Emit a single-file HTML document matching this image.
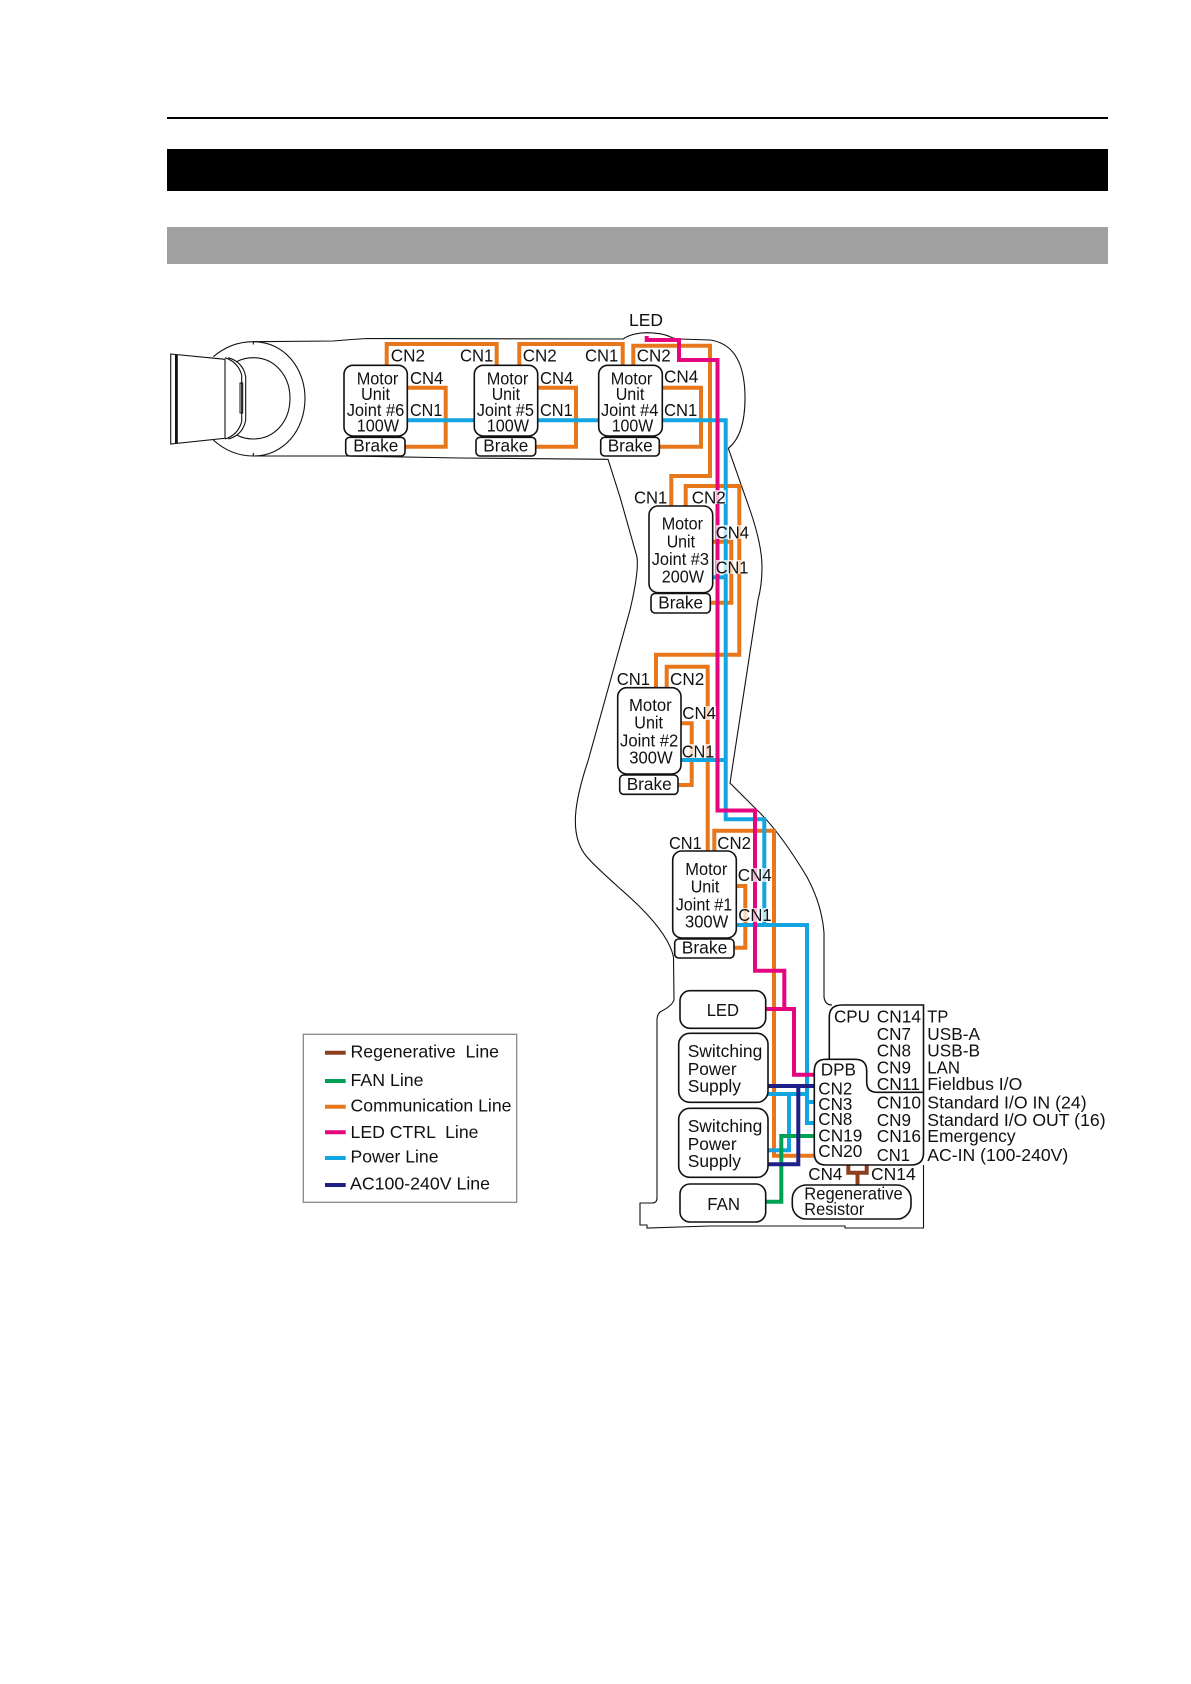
<!DOCTYPE html>
<html><head><meta charset="utf-8"><style>
html,body{margin:0;padding:0;background:#fff}
svg{display:block}
text{font-family:"Liberation Sans",sans-serif;font-size:17.5px;fill:#111}
.o,.b,.p,.g,.n,.r{fill:none;stroke-width:4;stroke-linejoin:miter}
.o{stroke:#e8761a}.b{stroke:#12a5e2}.p{stroke:#e4057f}.g{stroke:#00a055}.n{stroke:#1d2088}.r{stroke:#8c3f1e}
.l{fill:none;stroke:#111;stroke-width:1.1}
.x{fill:#fff;stroke:#111;stroke-width:1.6}
.h{fill:#fff;opacity:.72}
</style></head><body>
<svg width="1191" height="1684" viewBox="0 0 1191 1684" xmlns="http://www.w3.org/2000/svg">
<rect width="1191" height="1684" fill="#fff"/>
<rect x="167" y="117" width="941" height="2" fill="#000"/>
<rect x="167" y="149" width="941" height="42" fill="#000"/>
<rect x="167" y="227" width="941" height="37" fill="#a0a0a0"/>

<!-- body outline -->
<path class="l" d="M253.300 341.700 L333 341 Q350 339.500 366.700 338.500 L623 339 Q632 333 646.700 332.700 Q662 333 670 336.700 Q675 339 680 339 L710 340 Q745 345 745 398 Q745 435 728.300 448.300 L750 510 Q762 545 762 567 Q762 585 758 600 L730 783 L757 810 Q780 832 807 877 Q822 905 824 933 L824 997 Q825 1005 832 1005"/>
<path class="l" d="M253.300 456 L346.700 456 L460 458 L608 459.300 L620 497 L637 557 Q639 572 630 610 L588.300 760 C575 800 568 835 587 857 C600 872 625 892 640 907 C655 922 670 940 673.500 957 L674 1000 Q672 1006 660 1012 Q657 1015 657 1020 L657 1198 Q657 1203 652 1203 L640 1203 L640 1225 L647 1225 L647 1228 L710 1226 L845 1226 L845 1228 L923.500 1228 L923.500 1165"/>
<path class="l" d="M170.700 354 L225 359.300 L225 438.300 L170.700 444 Z"/>
<rect x="175" y="354.500" width="2.800" height="89" fill="#111"/>
<path class="l" d="M213.300 356.700 Q231 341.700 253.300 341.700 C284 341.700 305 368 305 398.300 C305 430 284 456 253.300 456 Q231 456 213.300 440"/>
<path class="l" d="M236.700 361.700 Q244 357.700 253.300 357.700 C275 357.700 290 376 290 398.300 C290 421 275 439 253.300 439 Q244 439 236.700 435"/>
<path class="l" d="M225 357.700 Q238 362 241.700 375 L241.700 421.700 Q238 435 225 439 M228.300 357.700 Q243 362 245.700 376.700 L245.700 420 Q243 435 228.300 439"/>
<rect x="240" y="383" width="2.700" height="30" fill="none" stroke="#111" stroke-width="1"/>
<path class="l" d="M253.300 341.700V344.500M253.300 453V456"/>

<!-- orange lines -->
<path class="o" d="M386.700 365V344H496.700V365"/>
<path class="o" d="M519.300 365V344H622.700V365"/>
<path class="o" d="M633.300 365V345.700H710V476H671.300V506"/>
<path class="o" d="M407.300 387.700H445.700V446.700H405"/>
<path class="o" d="M537.700 387.700H576V446.700H535.700"/>
<path class="o" d="M662.300 387.700H701V446.700H659.300"/>
<path class="o" d="M685.700 506V486H739.300V654.700H656V688"/>
<path class="o" d="M712.700 541.700H731.300V602.700H710"/>
<path class="o" d="M666.700 688V666.700H707.700V851"/>
<path class="o" d="M681 723.300H691.700V785H678"/>
<path class="o" d="M714.300 851V830.700H774V1155.700H814"/>
<path class="o" d="M736 886H745.300V947.700H734"/>
<!-- blue lines -->
<path class="b" d="M407.300 420.300H725.700V819.300H764.300V925"/>
<path class="b" d="M712.700 577.300H725.700"/>
<path class="b" d="M681 760H725.700"/>
<path class="b" d="M736 925H807V1123H814"/>
<path class="b" d="M807 1102H814"/>
<path class="b" d="M768 1094H807"/>
<path class="b" d="M789 1094V1150.300H768"/>
<!-- pink lines -->
<path class="p" d="M646.700 336V340H679V360H717.500V810.500H755V970.700H784.300V1009"/>
<path class="p" d="M765.700 1009H794V1074.700H814"/>
<!-- green -->
<path class="g" d="M765.700 1201.700H781.300V1136H814"/>
<!-- navy -->
<path class="n" d="M768 1086H814"/>
<path class="n" d="M798.300 1086V1164.300H768"/>
<!-- brown -->
<path class="r" d="M848.300 1165V1172.700H866.700V1165M857.500 1172.700V1185"/>

<!-- Joint 6 -->
<rect class="x" x="344" y="365.300" width="63.300" height="70.700" rx="9"/>
<rect class="x" x="345.700" y="437.300" width="59.300" height="18.700" rx="4"/>
<!-- Joint 5 -->
<rect class="x" x="474.300" y="365.300" width="63.400" height="70.700" rx="9"/>
<rect class="x" x="476" y="437.300" width="59.700" height="18.700" rx="4"/>
<!-- Joint 4 -->
<rect class="x" x="598.700" y="365.300" width="63.600" height="70.700" rx="9"/>
<rect class="x" x="600.700" y="437.300" width="58.600" height="18.700" rx="4"/>
<!-- Joint 3 -->
<rect class="x" x="649" y="506" width="63.700" height="86.700" rx="9"/>
<rect class="x" x="651" y="593.500" width="59.300" height="19.500" rx="4"/>
<!-- Joint 2 -->
<rect class="x" x="617.700" y="687.700" width="63.300" height="86.300" rx="9"/>
<rect class="x" x="619.700" y="775" width="58.300" height="19.300" rx="4"/>
<!-- Joint 1 -->
<rect class="x" x="672.700" y="851" width="63.600" height="87" rx="9"/>
<rect class="x" x="674.700" y="939" width="59.300" height="19" rx="4"/>
<!-- lower boxes -->
<rect class="x" x="680" y="990.700" width="85.700" height="37.600" rx="10"/>
<rect class="x" x="678.700" y="1033.300" width="89.300" height="69" rx="11"/>
<rect class="x" x="678.700" y="1108.300" width="89.300" height="69" rx="11"/>
<rect class="x" x="680" y="1184" width="85.700" height="38" rx="10"/>
<rect class="x" x="792.300" y="1185" width="118.700" height="34" rx="14"/>
<path class="l" style="stroke-width:1.600" d="M829.300 1059V1017Q829.300 1005 842 1005H923.500V1153Q923.500 1165 911 1165H826Q814.300 1165 814.300 1153V1071Q814.300 1059.300 826 1059.300H855Q866.700 1059.300 866.700 1071V1082Q866.700 1092.300 877 1092.300H923.500"/>

<!-- label halos over lines -->
<rect class="h" x="692" y="490" width="34" height="14"/>
<rect class="h" x="716" y="525" width="33" height="14"/>
<rect class="h" x="716" y="560" width="33" height="14"/>
<rect class="h" x="682" y="706" width="34" height="14"/>
<rect class="h" x="682" y="744" width="33" height="14"/>
<rect class="h" x="738" y="868" width="34" height="14"/>
<rect class="h" x="738" y="908" width="34" height="14"/>

<!-- Joint 6 text -->
<text x="390.700" y="361.700" textLength="34.300" lengthAdjust="spacingAndGlyphs">CN2</text>
<text x="460" y="361.700" textLength="33.300" lengthAdjust="spacingAndGlyphs">CN1</text>
<text x="410" y="384" textLength="33.300" lengthAdjust="spacingAndGlyphs">CN4</text>
<text x="410" y="416" textLength="32.300" lengthAdjust="spacingAndGlyphs">CN1</text>
<text x="356.700" y="384.300" textLength="41.600" lengthAdjust="spacingAndGlyphs">Motor</text>
<text x="361" y="400" textLength="29" lengthAdjust="spacingAndGlyphs">Unit</text>
<text x="346.700" y="416" textLength="57.600" lengthAdjust="spacingAndGlyphs">Joint #6</text>
<text x="356.700" y="431.700" textLength="42.300" lengthAdjust="spacingAndGlyphs">100W</text>
<text x="353.300" y="451.700" textLength="45" lengthAdjust="spacingAndGlyphs">Brake</text>
<!-- Joint 5 text -->
<text x="522.700" y="361.700" textLength="34" lengthAdjust="spacingAndGlyphs">CN2</text>
<text x="585" y="361.700" textLength="33.300" lengthAdjust="spacingAndGlyphs">CN1</text>
<text x="540" y="384" textLength="33.300" lengthAdjust="spacingAndGlyphs">CN4</text>
<text x="540" y="416" textLength="32.700" lengthAdjust="spacingAndGlyphs">CN1</text>
<text x="486.700" y="384.300" textLength="41.600" lengthAdjust="spacingAndGlyphs">Motor</text>
<text x="491.700" y="400" textLength="28.300" lengthAdjust="spacingAndGlyphs">Unit</text>
<text x="476.700" y="416" textLength="57.300" lengthAdjust="spacingAndGlyphs">Joint #5</text>
<text x="486.700" y="431.700" textLength="42.300" lengthAdjust="spacingAndGlyphs">100W</text>
<text x="483.300" y="451.700" textLength="45" lengthAdjust="spacingAndGlyphs">Brake</text>
<!-- Joint 4 text -->
<text x="636.700" y="361.700" textLength="34" lengthAdjust="spacingAndGlyphs">CN2</text>
<text x="664" y="382.700" textLength="34.300" lengthAdjust="spacingAndGlyphs">CN4</text>
<text x="664" y="416" textLength="33.300" lengthAdjust="spacingAndGlyphs">CN1</text>
<text x="610.700" y="384.300" textLength="41.600" lengthAdjust="spacingAndGlyphs">Motor</text>
<text x="615.700" y="400" textLength="28.600" lengthAdjust="spacingAndGlyphs">Unit</text>
<text x="601" y="416" textLength="57.300" lengthAdjust="spacingAndGlyphs">Joint #4</text>
<text x="611.700" y="431.700" textLength="41.600" lengthAdjust="spacingAndGlyphs">100W</text>
<text x="607.700" y="451.700" textLength="45" lengthAdjust="spacingAndGlyphs">Brake</text>
<text x="629" y="326" textLength="34" lengthAdjust="spacingAndGlyphs">LED</text>
<!-- Joint 3 text -->
<text x="634" y="503.300" textLength="33.300" lengthAdjust="spacingAndGlyphs">CN1</text>
<text x="691.700" y="503.300" textLength="34" lengthAdjust="spacingAndGlyphs">CN2</text>
<text x="715.700" y="538.300" textLength="33.300" lengthAdjust="spacingAndGlyphs">CN4</text>
<text x="715.700" y="573.300" textLength="32.600" lengthAdjust="spacingAndGlyphs">CN1</text>
<text x="661.700" y="529.300" textLength="41.300" lengthAdjust="spacingAndGlyphs">Motor</text>
<text x="666.700" y="547.300" textLength="28.300" lengthAdjust="spacingAndGlyphs">Unit</text>
<text x="651.700" y="565" textLength="57.300" lengthAdjust="spacingAndGlyphs">Joint #3</text>
<text x="661.700" y="582.700" textLength="42.300" lengthAdjust="spacingAndGlyphs">200W</text>
<text x="658.300" y="608.300" textLength="44.700" lengthAdjust="spacingAndGlyphs">Brake</text>
<!-- Joint 2 text -->
<text x="616.700" y="685" textLength="33.300" lengthAdjust="spacingAndGlyphs">CN1</text>
<text x="670" y="685" textLength="34.300" lengthAdjust="spacingAndGlyphs">CN2</text>
<text x="682.300" y="719" textLength="33.700" lengthAdjust="spacingAndGlyphs">CN4</text>
<text x="681.700" y="757.300" textLength="32.600" lengthAdjust="spacingAndGlyphs">CN1</text>
<text x="629" y="711" textLength="42.700" lengthAdjust="spacingAndGlyphs">Motor</text>
<text x="634.300" y="728.300" textLength="28.700" lengthAdjust="spacingAndGlyphs">Unit</text>
<text x="620" y="746.700" textLength="58.300" lengthAdjust="spacingAndGlyphs">Joint #2</text>
<text x="629.300" y="763.300" textLength="43.400" lengthAdjust="spacingAndGlyphs">300W</text>
<text x="626.700" y="790" textLength="45" lengthAdjust="spacingAndGlyphs">Brake</text>
<!-- Joint 1 text -->
<text x="669" y="849" textLength="32.700" lengthAdjust="spacingAndGlyphs">CN1</text>
<text x="717.300" y="849" textLength="33.700" lengthAdjust="spacingAndGlyphs">CN2</text>
<text x="737.700" y="881" textLength="34" lengthAdjust="spacingAndGlyphs">CN4</text>
<text x="738.300" y="921" textLength="33.400" lengthAdjust="spacingAndGlyphs">CN1</text>
<text x="685.300" y="875" textLength="42" lengthAdjust="spacingAndGlyphs">Motor</text>
<text x="690.700" y="892.300" textLength="28.600" lengthAdjust="spacingAndGlyphs">Unit</text>
<text x="675.700" y="910.700" textLength="56.600" lengthAdjust="spacingAndGlyphs">Joint #1</text>
<text x="685" y="927.700" textLength="43.300" lengthAdjust="spacingAndGlyphs">300W</text>
<text x="681.700" y="953.300" textLength="45.600" lengthAdjust="spacingAndGlyphs">Brake</text>
<!-- lower text -->
<text x="706.700" y="1016" textLength="32.300" lengthAdjust="spacingAndGlyphs">LED</text>
<text x="687.700" y="1057" textLength="74.600" lengthAdjust="spacingAndGlyphs">Switching</text>
<text x="687.700" y="1075" textLength="49" lengthAdjust="spacingAndGlyphs">Power</text>
<text x="687.700" y="1092" textLength="53.300" lengthAdjust="spacingAndGlyphs">Supply</text>
<text x="687.700" y="1132" textLength="74.600" lengthAdjust="spacingAndGlyphs">Switching</text>
<text x="687.700" y="1150" textLength="49" lengthAdjust="spacingAndGlyphs">Power</text>
<text x="687.700" y="1167" textLength="53.300" lengthAdjust="spacingAndGlyphs">Supply</text>
<text x="707.300" y="1210" textLength="32.700" lengthAdjust="spacingAndGlyphs">FAN</text>
<text x="804.300" y="1199.300" textLength="98.400" lengthAdjust="spacingAndGlyphs">Regenerative</text>
<text x="804.300" y="1215" textLength="60" lengthAdjust="spacingAndGlyphs">Resistor</text>
<text x="820.700" y="1075.700" textLength="35.300" lengthAdjust="spacingAndGlyphs">DPB</text>
<text x="818.300" y="1094.300" textLength="34" lengthAdjust="spacingAndGlyphs">CN2</text>
<text x="818.300" y="1110" textLength="34" lengthAdjust="spacingAndGlyphs">CN3</text>
<text x="818.300" y="1125" textLength="34" lengthAdjust="spacingAndGlyphs">CN8</text>
<text x="818.300" y="1141.500" textLength="44" lengthAdjust="spacingAndGlyphs">CN19</text>
<text x="818.300" y="1157" textLength="44" lengthAdjust="spacingAndGlyphs">CN20</text>
<text x="834" y="1022.300" textLength="36" lengthAdjust="spacingAndGlyphs">CPU</text>
<text x="876.700" y="1022.300" textLength="44.300" lengthAdjust="spacingAndGlyphs">CN14</text>
<text x="876.700" y="1040" textLength="34.300" lengthAdjust="spacingAndGlyphs">CN7</text>
<text x="876.700" y="1056.700" textLength="34.300" lengthAdjust="spacingAndGlyphs">CN8</text>
<text x="876.700" y="1073.300" textLength="34.300" lengthAdjust="spacingAndGlyphs">CN9</text>
<text x="876.700" y="1090" textLength="43.300" lengthAdjust="spacingAndGlyphs">CN11</text>
<text x="876.700" y="1108.300" textLength="44.300" lengthAdjust="spacingAndGlyphs">CN10</text>
<text x="876.700" y="1126" textLength="34.300" lengthAdjust="spacingAndGlyphs">CN9</text>
<text x="876.700" y="1142" textLength="44.300" lengthAdjust="spacingAndGlyphs">CN16</text>
<text x="876.700" y="1161" textLength="33.300" lengthAdjust="spacingAndGlyphs">CN1</text>
<text x="808.300" y="1180" textLength="34" lengthAdjust="spacingAndGlyphs">CN4</text>
<text x="871" y="1180" textLength="44.700" lengthAdjust="spacingAndGlyphs">CN14</text>
<!-- right labels -->
<text x="927.300" y="1022.300" textLength="21" lengthAdjust="spacingAndGlyphs">TP</text>
<text x="927.300" y="1040" textLength="52.700" lengthAdjust="spacingAndGlyphs">USB-A</text>
<text x="927.300" y="1056.700" textLength="52.700" lengthAdjust="spacingAndGlyphs">USB-B</text>
<text x="927.300" y="1073.300" textLength="32.700" lengthAdjust="spacingAndGlyphs">LAN</text>
<text x="927.300" y="1090" textLength="95" lengthAdjust="spacingAndGlyphs">Fieldbus I/O</text>
<text x="927.300" y="1108.300" textLength="159.300" lengthAdjust="spacingAndGlyphs">Standard I/O IN (24)</text>
<text x="927.300" y="1126" textLength="178.300" lengthAdjust="spacingAndGlyphs">Standard I/O OUT (16)</text>
<text x="927.300" y="1142" textLength="88.300" lengthAdjust="spacingAndGlyphs">Emergency</text>
<text x="927.300" y="1161" textLength="141" lengthAdjust="spacingAndGlyphs">AC-IN (100-240V)</text>

<!-- legend -->
<rect x="303.300" y="1034.300" width="213.400" height="168" fill="#fff" stroke="#808080" stroke-width="1.200"/>
<path d="M325 1052.700H345.700" stroke="#8c3f1e" stroke-width="4"/>
<path d="M325 1081H345.700" stroke="#00a055" stroke-width="4"/>
<path d="M325 1106.700H345.700" stroke="#e8761a" stroke-width="4"/>
<path d="M325 1132.300H345.700" stroke="#e4057f" stroke-width="4"/>
<path d="M325 1158H345.700" stroke="#12a5e2" stroke-width="4"/>
<path d="M325 1185H345.700" stroke="#1d2088" stroke-width="4"/>
<text x="350.500" y="1057.700" textLength="148.500" lengthAdjust="spacingAndGlyphs" xml:space="preserve">Regenerative  Line</text>
<text x="350.500" y="1086" textLength="73" lengthAdjust="spacingAndGlyphs">FAN Line</text>
<text x="350.500" y="1111.700" textLength="161" lengthAdjust="spacingAndGlyphs">Communication Line</text>
<text x="350.500" y="1138" textLength="128" lengthAdjust="spacingAndGlyphs" xml:space="preserve">LED CTRL  Line</text>
<text x="350.500" y="1162.700" textLength="88" lengthAdjust="spacingAndGlyphs">Power Line</text>
<text x="350" y="1189.300" textLength="140" lengthAdjust="spacingAndGlyphs">AC100-240V Line</text>
</svg>
</body></html>
